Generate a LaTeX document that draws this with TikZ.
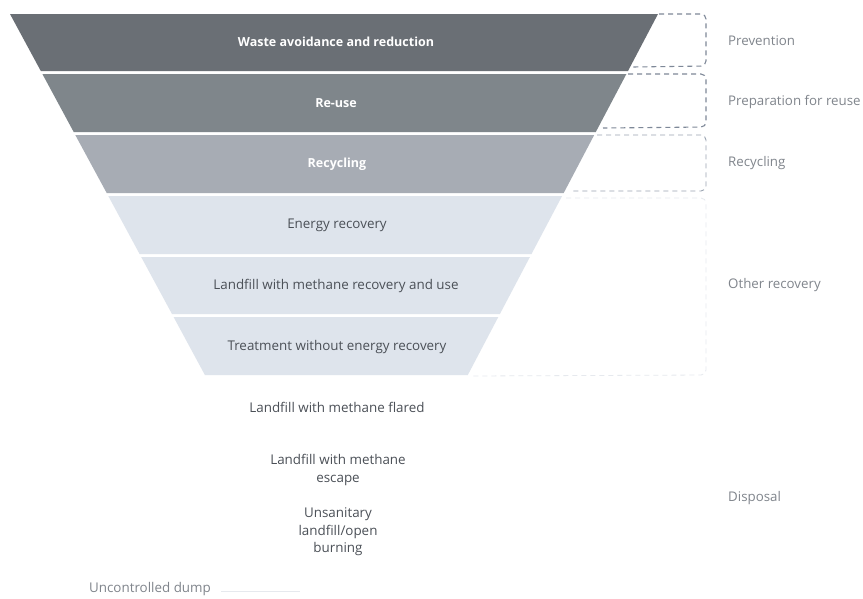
\documentclass[tikz,border=0pt]{standalone}
\usepackage{fontspec}
\setmainfont{Open Sans}
\usetikzlibrary{calc}

\definecolor{bandA}{HTML}{6A6F75}
\definecolor{bandB}{HTML}{7F868B}
\definecolor{bandC}{HTML}{A7ACB4}
\definecolor{bandD}{HTML}{DEE4EC}
\definecolor{inktext}{HTML}{4B5057}
\definecolor{sidetext}{HTML}{80858C}
\definecolor{bracketdark}{HTML}{7E8898}
\definecolor{bracketmid}{HTML}{9AA4B2}
\definecolor{bracketfaint}{HTML}{E6E9EE}

\tikzset{
  band/.style={fill=#1, draw=none},
  bandlabel/.style={font=\fontsize{13.4}{17.5}\selectfont, text=inktext, align=center, inner sep=0pt},
  darklabel/.style={font=\fontsize{12.5}{15}\selectfont\bfseries, text=white, align=center, inner sep=0pt},
  sidelabel/.style={font=\fontsize{13.3}{16}\selectfont, text=sidetext, anchor=west, inner sep=0pt},
  bracket/.style={draw=#1, line width=1.1pt, dash pattern=on 5pt off 4pt, rounded corners=5pt},
}

\begin{document}
\begin{tikzpicture}[x=1pt,y=-1pt]
  \useasboundingbox[fill=white] (0,0) rectangle (863,598);

  % funnel bands, top to bottom
  \fill[band=bandA] (10,14)    -- (658,14)    -- (628.0,71)  -- (40.8,71)  -- cycle;
  \fill[band=bandB] (42.4,74)  -- (626.4,74)  -- (595.8,132) -- (73.7,132) -- cycle;
  \fill[band=bandC] (75.3,135) -- (594.2,135) -- (563.7,193) -- (106.7,193) -- cycle;
  \fill[band=bandD] (108.3,196) -- (562.1,196) -- (531.5,254) -- (139.6,254) -- cycle;
  \fill[band=bandD] (141.2,257) -- (529.9,257) -- (499.9,314) -- (172.0,314) -- cycle;
  \fill[band=bandD] (173.6,317) -- (498.3,317) -- (467.8,375) -- (204.9,375) -- cycle;

  % band texts
  \node[darklabel] (avoid) at (336,42)  {Waste avoidance and reduction};
  \node[darklabel] (reuse) at (336,103) {Re-use};
  \node[darklabel] (recyc) at (337,164) {Recycling};
  \node[bandlabel] (energy) at (337,225) {Energy recovery};
  \node[bandlabel] (lfuse) at (336,286) {Landfill with methane recovery and use};
  \node[bandlabel] (treat) at (337,347) {Treatment without energy recovery};

  % disposal options below the funnel
  \node[bandlabel] (flared) at (337,407) {Landfill with methane flared};
  \node[bandlabel] (escape) at (338,470) {Landfill with methane\\escape};
  \node[bandlabel] (unsan) at (338,532) {Unsanitary\\landfill/open\\burning};
  \node[bandlabel, text=sidetext] (dump) at (150,589) {Uncontrolled dump};
  \coordinate (dumpend) at (300,591);
  \draw[bracketfaint, line width=0.8pt] ($(dump.east)+(10,2)$) -- (dumpend);

  % category brackets
  \draw[bracket=bracketdark] (659,14) -- (706,14) -- (706,66) -- (632,67);
  \draw[bracket=bracketdark] (628,74) -- (706,74) -- (706,127) -- (603,128);
  \draw[bracket=bracketmid, line width=0.9pt] (597,135) -- (706,135) -- (706,191) -- (572,191);
  \draw[bracket=bracketfaint, line width=0.8pt] (566,198) -- (706,198) -- (706,375) -- (470,376);

  % category names
  \node[sidelabel] (prev) at (728,41)  {Prevention};
  \node[sidelabel] (prep) at (728,102) {Preparation for reuse};
  \node[sidelabel] (recl) at (728,163) {Recycling};
  \node[sidelabel] (other) at (728,285) {Other recovery};
  \node[sidelabel] (disp) at (728,498) {Disposal};
\end{tikzpicture}
\end{document}
